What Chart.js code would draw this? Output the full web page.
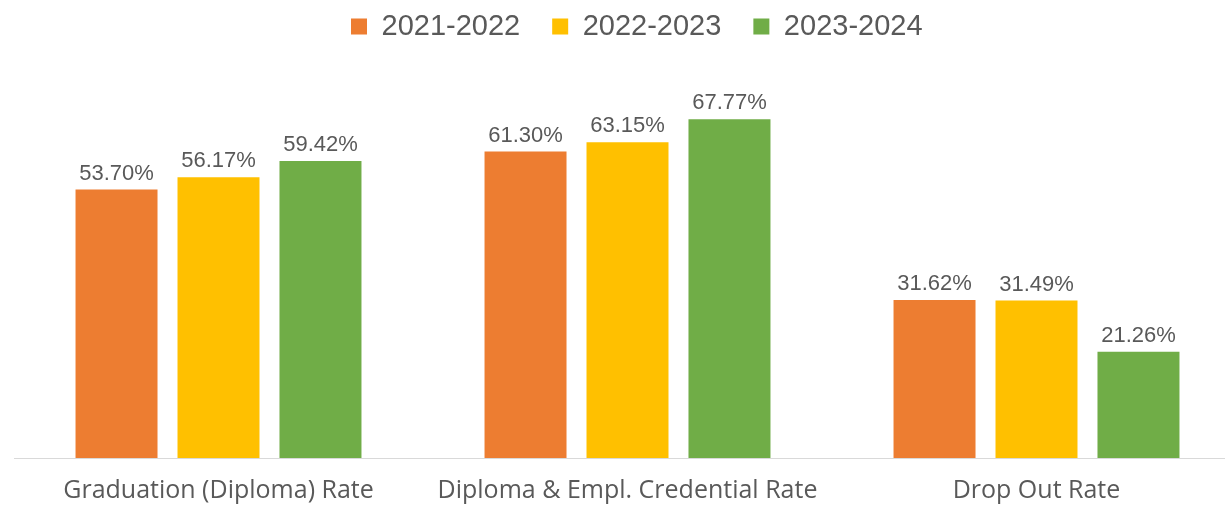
<!DOCTYPE html>
<html>
<head>
<meta charset="utf-8">
<script src="https://cdn.jsdelivr.net/npm/chart.js@4.4.1/dist/chart.umd.min.js"></script>
<style>
  html, body { margin: 0; padding: 0; background: #fff; overflow: hidden; }
  #wrap { position: relative; width: 1241px; height: 505px; }
</style>
</head>
<body>
<div id="wrap"><canvas id="rates"></canvas></div>
<script>
const categories = ['Graduation (Diploma) Rate', 'Diploma & Empl. Credential Rate', 'Drop Out Rate'];
const years = ['2021-2022', '2022-2023', '2023-2024'];
const rates_2122 = [53.70, 61.30, 31.62];
const rates_2223 = [56.17, 63.15, 31.49];
const rates_2324 = [59.42, 67.77, 21.26];
const yTicks = [0, 80]; // hidden axis range

const textGrey = '#595959';

// labels above each bar
const barLabels = {
    id: 'barLabels',
    afterDatasetsDraw(chart) {
        const ctx = chart.ctx;
        ctx.save();
        ctx.font = '22px "Liberation Sans", Arial, sans-serif';
        ctx.fillStyle = textGrey;
        ctx.textAlign = 'center';
        ctx.textBaseline = 'alphabetic';
        chart.data.datasets.forEach((ds, i) => {
            chart.getDatasetMeta(i).data.forEach((bar, j) => {
                ctx.fillText(ds.data[j].toFixed(2) + '%', bar.x, bar.y - 10);
            });
        });
        ctx.restore();
    }
};

// move the legend a bit left and up, like the original
const legendShift = {
    id: 'legendShift',
    beforeDraw(chart) {
        const lg = chart.legend;
        const pad = lg.options.labels.padding;
        const start = (lg.left + pad + lg.right - lg.lineWidths[0]) / 2;
        const d = 351 - start;
        lg.left += d;
        lg.right += d;
        lg.top = -20;
    }
};

var ctx = document.getElementById('rates').getContext('2d');
var rate_chart = new Chart(ctx, {
    type: 'bar',
    data: {
        labels: categories,
        datasets: [{
            label: years[0],
            data: rates_2122,
            backgroundColor: '#ED7D31'
        },
        {
            label: years[1],
            data: rates_2223,
            backgroundColor: '#FFC000'
        },
        {
            label: years[2],
            data: rates_2324,
            backgroundColor: '#70AD47'
        }]
    },
    options: {
        responsive: true,
        maintainAspectRatio: false,
        animation: false,
        categoryPercentage: 0.748,
        barPercentage: 0.804,
        layout: { padding: { left: 14, right: 0, top: 0, bottom: 0 } },
        plugins: {
            tooltip: { enabled: false },
            legend: {
                position: 'top',
                maxHeight: 58,
                labels: {
                    boxWidth: 16,
                    boxHeight: 16,
                    padding: 32,
                    color: textGrey,
                    font: { family: '"Liberation Sans", Arial, sans-serif', size: 29 }
                }
            }
        },
        scales: {
            x: {
                grid: { display: false },
                border: { display: true, color: '#D9D9D9', width: 1 },
                ticks: {
                    color: textGrey,
                    padding: 10,
                    maxRotation: 0,
                    font: { family: '"Open Sans", sans-serif', size: 25 }
                },
                afterFit(scale) { scale.height = 47; }
            },
            y: {
                display: false,
                min: yTicks[0],
                max: yTicks[1]
            }
        }
    },
    plugins: [barLabels, legendShift]
});
</script>
</body>
</html>
